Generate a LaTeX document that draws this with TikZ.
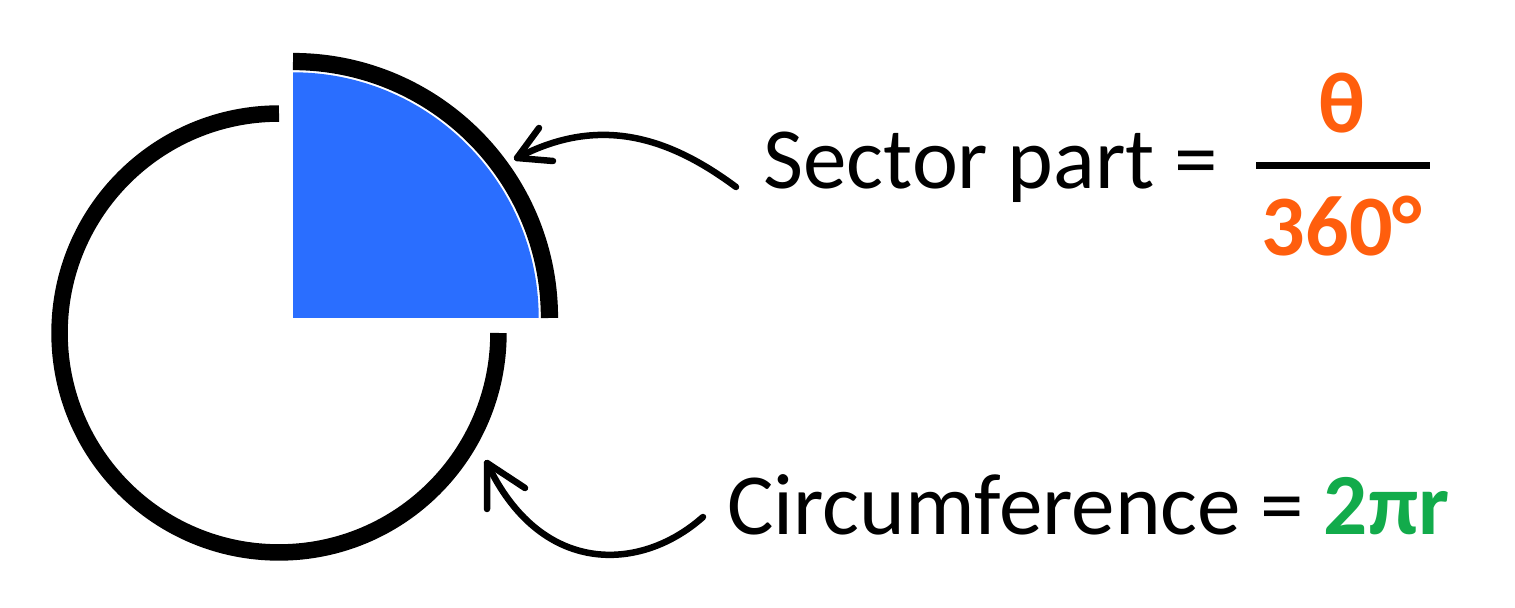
\documentclass[tikz,border=0pt]{standalone}
\usepackage{fontspec}
\setmainfont{Carlito}
\usetikzlibrary{positioning}
\definecolor{sectorblue}{HTML}{2A6EFF}
\definecolor{angleorange}{HTML}{FF5E0D}
\definecolor{circgreen}{HTML}{12AB4B}

\begin{document}
\begin{tikzpicture}[x=0.02cm,y=0.02cm,
                    label node/.style={inner sep=0pt,font=\fontsize{49.6}{54}\selectfont},
                    big node/.style={inner sep=0pt,text=angleorange,font=\fontsize{49}{54}\selectfont\bfseries},
                    rim/.style={line width=0.345cm},
                    pointer/.style={line width=0.13cm,line cap=round,line join=round}]
  \useasboundingbox (0,0) rectangle (1515,608);

  % circle with the quarter taken out
  \coordinate (C) at (279,275);
  \draw[rim,line width=0.33cm] (C) ++(90:4.39cm) arc[start angle=90,end angle=360,radius=4.39cm];

  % the sector
  \coordinate (O) at (293,290);
  \fill[sectorblue] (O) -- ++(90:4.915cm) arc[start angle=90,end angle=0,radius=4.915cm] -- cycle;
  \draw[rim] (O) ++(90:5.13cm) arc[start angle=90,end angle=0,radius=5.13cm];

  % labels
  \node[label node,anchor=base west] (sector) at (763,419) {Sector part =};
  \node[big node,anchor=base] (theta) at (1342,475) {θ};
  \node[big node,anchor=base] (deg) at (1342,352) {360°};
  \node[label node,anchor=base west] (circ) at (727,73)
    {Circumference = \textcolor{circgreen}{\bfseries 2πr}};

  % fraction bar
  \coordinate (barl) at (1256,442);
  \coordinate (barr) at (1430,442);
  \draw[line width=0.14cm] (barl) -- (barr);

  % arrows
  \coordinate (a0) at (736,421);
  \coordinate (a1) at (517,450);
  \coordinate (a2) at (539,480);
  \coordinate (a3) at (553,447);
  \draw[pointer] (a0) .. controls (670,470) and (600,494) .. (a1);
  \draw[pointer] (a2) -- (a1) -- (a3);

  \coordinate (b0) at (703,91);
  \coordinate (b1) at (487,145);
  \coordinate (b2) at (525,120);
  \coordinate (b3) at (487,99);
  \draw[pointer] (b0) .. controls (640,35) and (540,32) .. (b1);
  \draw[pointer] (b2) -- (b1) -- (b3);
\end{tikzpicture}
\end{document}
